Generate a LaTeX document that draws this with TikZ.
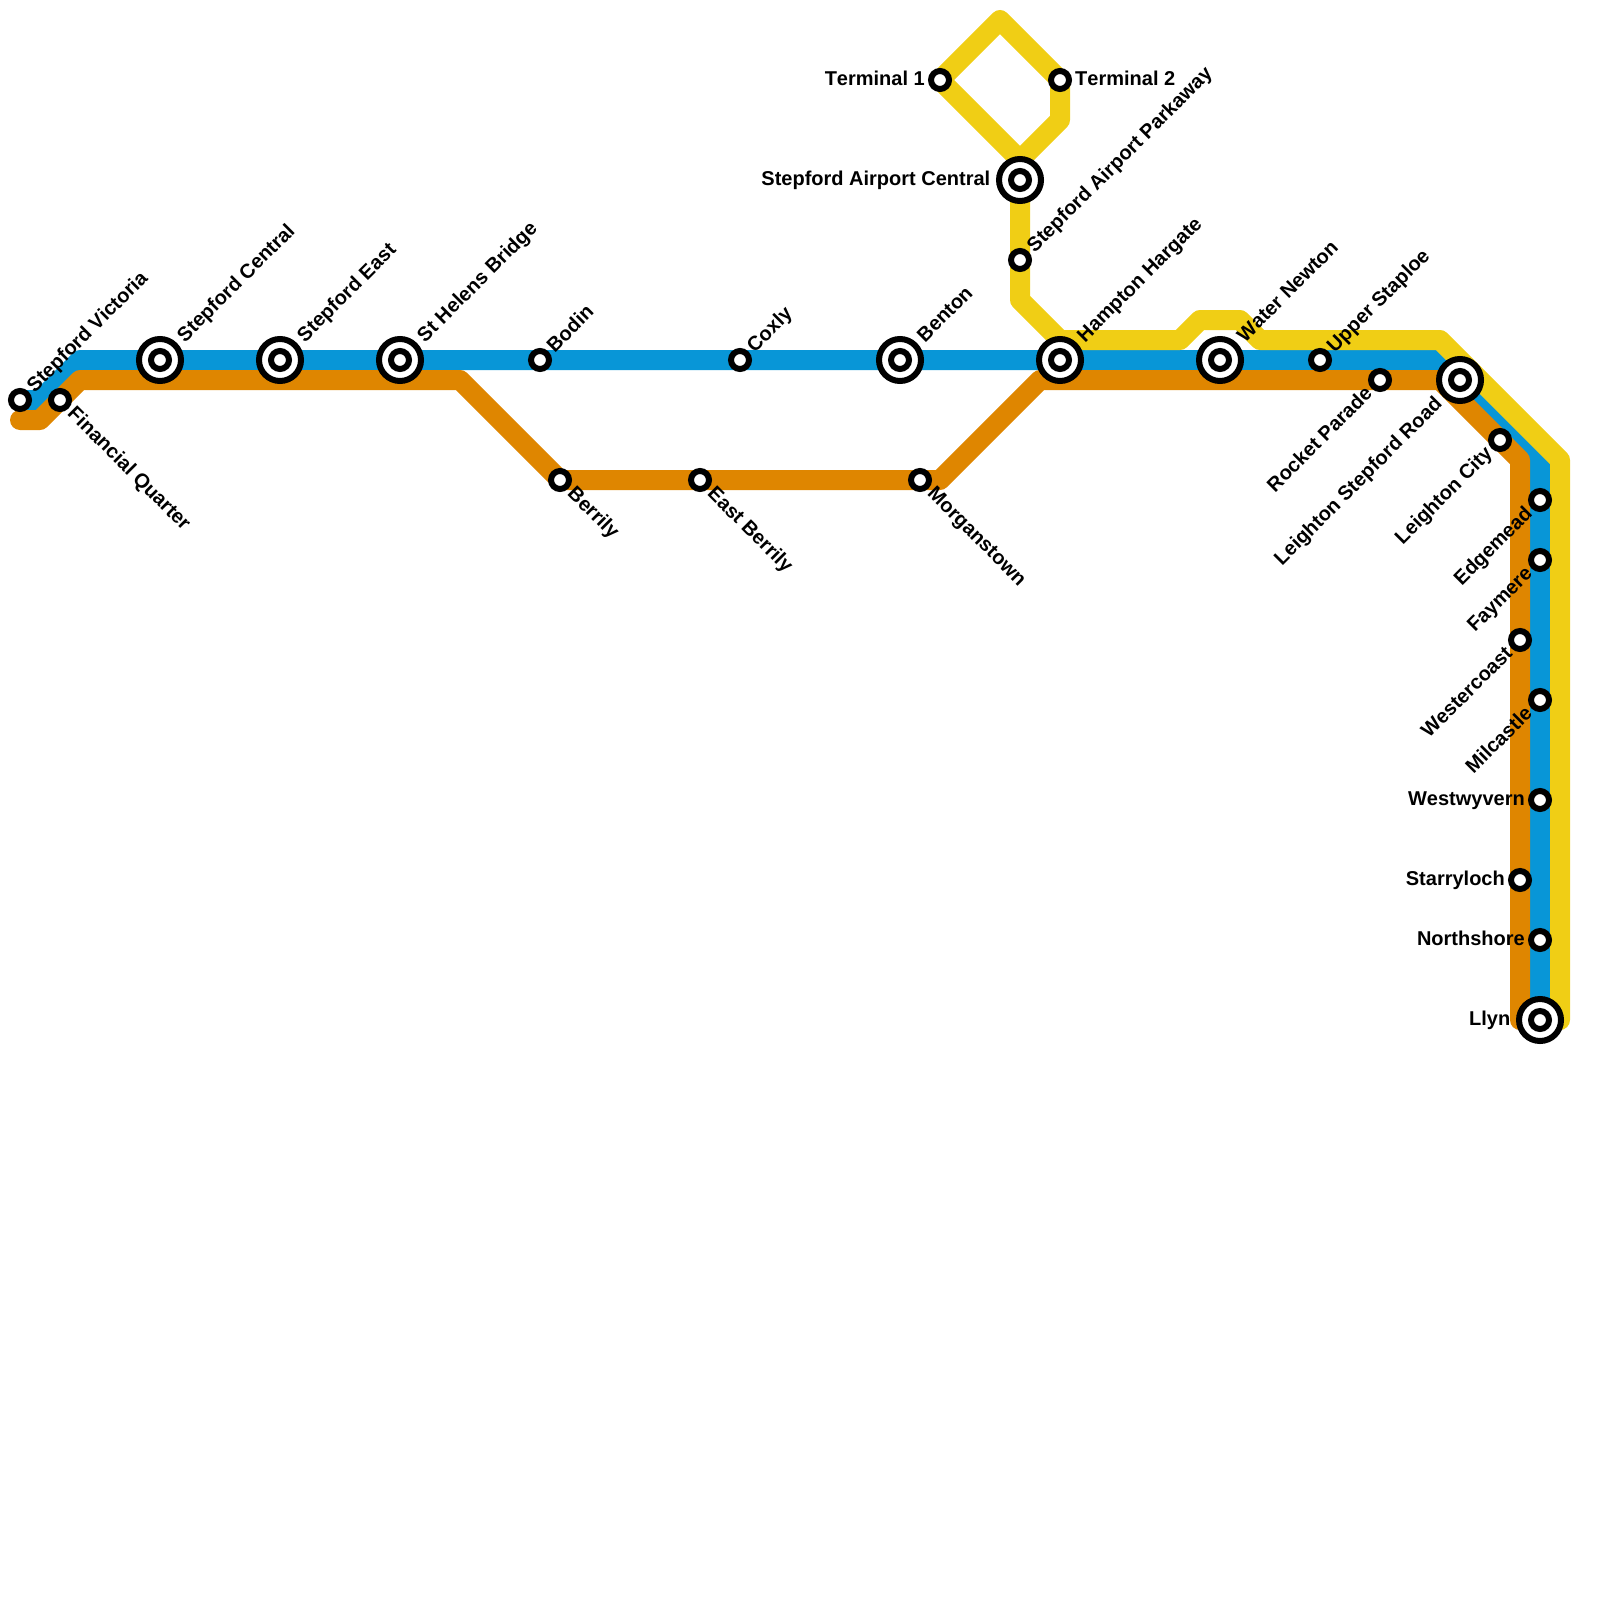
\documentclass[tikz,border=0pt]{standalone}
\usepackage{fontspec}
\setmainfont[Kerning=Off]{Liberation Sans}
\usetikzlibrary{backgrounds}

\definecolor{blueline}{HTML}{0896D7}
\definecolor{orangeline}{HTML}{DF8600}
\definecolor{yellowline}{HTML}{F0CE15}

\tikzset{
	stn/.style={circle,draw=black,fill=white,line width=6pt,minimum size=18pt,inner sep=0pt},
	hub/.style={circle,draw=black,fill=white,line width=6pt,minimum size=42pt,inner sep=0pt,outer sep=5.5pt,
		path picture={\draw[line width=6pt] (path picture bounding box.center) circle (9pt);}},
	rail/.style={line width=20pt,line cap=round,line join=round},
	lab/.style={font=\fontsize{20pt}{20pt}\selectfont\bfseries,inner sep=3pt,text height=14pt,text depth=2.5pt},
	labne/.style={lab,rotate=45,anchor=west},
	labse/.style={lab,rotate=-45,anchor=west},
	labsw/.style={lab,rotate=45,anchor=east},
	labw/.style={lab,anchor=east},
	labe/.style={lab,anchor=west}
}

\begin{document}
\begin{tikzpicture}[x=1pt,y=-1pt]

	\useasboundingbox (0,0) rectangle (1600,1600);

	\node[stn] (victoria) at (20,400) {};
	\node[stn] (financial) at (60,400) {};
	\node[hub] (central) at (160,360) {};
	\node[hub] (east) at (280,360) {};
	\node[hub] (helens) at (400,360) {};
	\node[stn] (bodin) at (540,360) {};
	\node[stn] (berrily) at (560,480) {};
	\node[stn] (eastberrily) at (700,480) {};
	\node[stn] (coxly) at (740,360) {};
	\node[hub] (benton) at (900,360) {};
	\node[stn] (morganstown) at (920,480) {};
	\node[stn] (terminal1) at (940,80) {};
	\node[stn] (terminal2) at (1060,80) {};
	\node[hub] (airport) at (1020,180) {};
	\node[stn] (parkway) at (1020,260) {};
	\node[hub] (hampton) at (1060,360) {};
	\node[hub] (newton) at (1220,360) {};
	\node[stn] (staploe) at (1320,360) {};
	\node[stn] (rocket) at (1380,380) {};
	\node[hub] (leighton) at (1460,380) {};
	\node[stn] (city) at (1500,440) {};
	\node[stn] (edgemead) at (1540,500) {};
	\node[stn] (faymere) at (1540,560) {};
	\node[stn] (westercoast) at (1520,640) {};
	\node[stn] (milcastle) at (1540,700) {};
	\node[stn] (westwyvern) at (1540,800) {};
	\node[stn] (starryloch) at (1520,880) {};
	\node[stn] (northshore) at (1540,940) {};
	\node[hub] (llyn) at (1540,1020) {};

	\node[labne] (victoria text) at (victoria.45) {Stepford Victoria};
	\node[labse] (financial text) at (financial.-45) {Financial Quarter};
	\node[labne] (central text) at (central.45) {Stepford Central};
	\node[labne] (east text) at (east.45) {Stepford East};
	\node[labne] (helens text) at (helens.45) {St Helens Bridge};
	\node[labne] (bodin text) at (bodin.45) {Bodin};
	\node[labse] (berrily text) at (berrily.-45) {Berrily};
	\node[labse] (eastberrily text) at (eastberrily.-45) {East Berrily};
	\node[labne] (coxly text) at (coxly.45) {Coxly};
	\node[labne] (benton text) at (benton.45) {Benton};
	\node[labse] (morganstown text) at (morganstown.-45) {Morganstown};
	\node[labw] (terminal1 text) at (terminal1.west) {Terminal 1};
	\node[labe] (terminal2 text) at (terminal2.east) {Terminal 2};
	\node[labw] (airport text) at (airport.west) {Stepford Airport Central};
	\node[labne] (parkway text) at (parkway.45) {Stepford Airport Parkaway};
	\node[labne] (hampton text) at (hampton.45) {Hampton Hargate};
	\node[labne] (newton text) at (newton.45) {Water Newton};
	\node[labne] (staploe text) at (staploe.45) {Upper Staploe};
	\node[labsw] (rocket text) at (rocket.-135) {Rocket Parade};
	\node[labsw] (leighton text) at (leighton.-135) {Leighton Stepford Road};
	\node[labsw] (city text) at (city.-135) {Leighton City};
	\node[labsw] (edgemead text) at (edgemead.-135) {Edgemead};
	\node[labsw] (faymere text) at (faymere.-135) {Faymere};
	\node[labsw] (westercoast text) at (westercoast.-135) {Westercoast};
	\node[labsw] (milcastle text) at (milcastle.-135) {Milcastle};
	\node[labw] (westwyvern text) at (westwyvern.west) {Westwyvern};
	\node[labw] (starryloch text) at (starryloch.west) {Starryloch};
	\node[labw] (northshore text) at (northshore.west) {Northshore};
	\node[labw] (llyn text) at (llyn.west) {Llyn};

	\coordinate (blue1) at (40,400);
	\coordinate (blue2) at (80,360);
	\coordinate (blue3) at (1440,360);
	\coordinate (blue4) at (1540,460);

	\coordinate (orange0) at (20,420);
	\coordinate (orange1) at (40,420);
	\coordinate (orange2) at (80,380);
	\coordinate (orange3) at (460,380);
	\coordinate (orange4) at (560,480);
	\coordinate (orange5) at (940,480);
	\coordinate (orange6) at (1040,380);
	\coordinate (orange7) at (1440,380);
	\coordinate (orange8) at (1520,460);
	\coordinate (orange9) at (1520,1020);

	\coordinate (yellow0) at (1560,1020);
	\coordinate (yellow1) at (1560,460);
	\coordinate (yellow2) at (1440,340);
	\coordinate (yellow3) at (1260,340);
	\coordinate (yellow4) at (1240,320);
	\coordinate (yellow5) at (1200,320);
	\coordinate (yellow6) at (1180,340);
	\coordinate (yellow7) at (1060,340);
	\coordinate (yellow8) at (1020,300);
	\coordinate (yellow9) at (1020,160);
	\coordinate (yellow10) at (1000,20);
	\coordinate (yellow11) at (1060,120);

	\begin{scope}[on background layer]
		\draw[rail,blueline] (victoria.center) -- (blue1) -- (blue2) -- (blue3) -- (blue4) -- (llyn.center);
		\draw[rail,orangeline] (orange0) -- (orange1) -- (orange2) -- (orange3) -- (orange4) -- (orange5) -- (orange6) -- (orange7) -- (orange8) -- (orange9);
		\draw[rail,yellowline] (yellow0) -- (yellow1) -- (yellow2) -- (yellow3) -- (yellow4) -- (yellow5) -- (yellow6) -- (yellow7) -- (yellow8) -- (parkway.center) -- (yellow9) -- (terminal1.center) -- (yellow10) -- (terminal2.center) -- (yellow11) -- (yellow9);
	\end{scope}

\end{tikzpicture}
\end{document}
